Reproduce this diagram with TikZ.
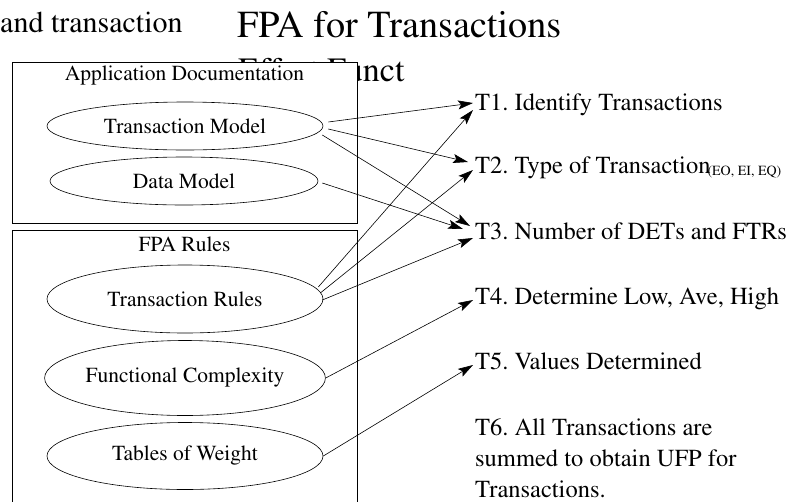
\documentclass[tikz,border=0pt]{standalone}
\usepackage[T1]{fontenc}
\usepackage{times}
\usetikzlibrary{shapes.geometric,arrows.meta,positioning}

\tikzset{
	docbox/.style={draw, fill=white, line width=0.8pt},
	model/.style={draw, ellipse, line width=0.6pt, minimum width=276pt, minimum height=48pt, inner sep=0pt, font=\fontsize{21.5}{24}\selectfont},
	task/.style={anchor=base west, inner sep=0pt, font=\fontsize{24.5}{31}\selectfont},
	arr/.style={-{Stealth[length=15pt,width=9pt,inset=3pt]}, line width=0.6pt},
}

\begin{document}
\frenchspacing
\begin{tikzpicture}[x=1pt,y=-1pt]
			\clip (0,0) rectangle (805,501);
			
			% Headings behind the boxes
			\node[anchor=base west, inner sep=0pt, font=\fontsize{30}{34}\selectfont] (intro) at (0,32) {and transaction};
			\node[anchor=base west, inner sep=0pt, font=\fontsize{38.2}{44}\selectfont] (title) at (237,37) {FPA for Transactions};
			\node[anchor=base west, inner sep=0pt, font=\fontsize{34}{40}\selectfont] (subtitle) at (238,81) {Effort Funct};
			
			% Boxes with ellipses
			\node[docbox, minimum width=345pt, minimum height=161pt, inner sep=0pt, anchor=north west] (appdoc) at (12,62) {};
			\node[font=\fontsize{21.5}{24}\selectfont] (appdochead) at (184.5,76) {Application Documentation};
			\node[model] (tm) at (185,126) {Transaction Model};
			\node[model, minimum width=268pt] (dm) at (184,181) {Data Model};
			
			\node[docbox, minimum width=345pt, minimum height=290pt, inner sep=0pt, anchor=north west] (rules) at (12,230) {};
			\node[font=\fontsize{21.5}{24}\selectfont] (ruleshead) at (184.5,244) {FPA Rules};
			\node[model, minimum height=68pt] (tr) at (185,299) {Transaction Rules};
			\node[model, minimum height=75pt] (fc) at (185,378) {Functional Complexity};
			\node[model, minimum height=67pt] (tw) at (185,456) {Tables of Weight};
			
			% Transaction steps
			\node[task] (t1) at (475,110) {T1. Identify Transactions};
			\node[task] (t2) at (475,173) {T2. Type of Transaction\kern-3pt\raisebox{-2pt}{\fontsize{14}{15}\selectfont(EO, EI, EQ)}};
			\node[task] (t3) at (475,239) {T3. Number of DETs and FTRs};
			\node[task] (t4) at (475,304) {T4. Determine Low, Ave, High};
			\node[task] (t5) at (475,369) {T5. Values Determined};
			\node[task] (t6) at (475,435) {\begin{tabular}[t]{@{}l@{}}T6. All Transactions are\\summed to obtain UFP for\\Transactions.\end{tabular}};
			
			% Arrows
			\draw[arr] ([shift={(5,-4)}]tm.east) -- ([shift={(-2,-7)}]t1.base west);
			\draw[arr] ([shift={(5,3)}]tm.east) -- ([shift={(-7,-11)}]t2.base west);
			\draw[arr] ([shift={(-1,9)}]tm.east) -- ([shift={(-5,-13)}]t3.base west);
			\draw[arr] ([shift={(4,2)}]dm.east) -- ([shift={(-12,-10)}]t3.base west);
			\draw[arr] ([shift={(-5,-12)}]tr.east) -- ([shift={(-2,0)}]t1.base west);
			\draw[arr] ([shift={(-3,-6)}]tr.east) -- ([shift={(-2,-3)}]t2.base west);
			\draw[arr] ([shift={(-1,1)}]tr.east) -- ([shift={(-2,-1)}]t3.base west);
			\draw[arr] (fc.east) -- ([shift={(-2,-4)}]t4.base west);
			\draw[arr] (tw.east) -- ([shift={(-2,-4)}]t5.base west);
		\end{tikzpicture}
\end{document}
